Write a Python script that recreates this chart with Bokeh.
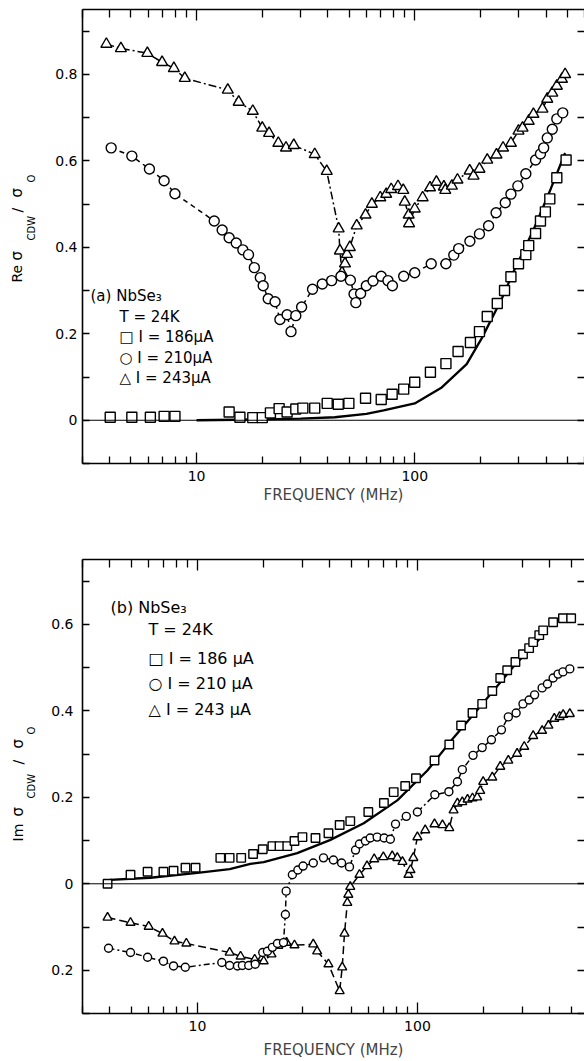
import math
from bokeh.plotting import figure
from bokeh.models import (Range1d, FixedTicker, LogAxis, LinearAxis, Span, Label,
                          CustomJSTickFormatter)
from bokeh.layouts import column, row
from bokeh.embed import file_html
from bokeh.resources import INLINE

FONT = "DejaVu Sans"

# ---------------- data: panel (a) Re sigma_CDW / sigma_0 ----------------
a_sq_f = [4.02, 5.05, 6.14, 7.1, 7.96, 14.1, 15.8, 18.1, 20.0, 21.8, 23.9, 26.0, 28.5, 30.7,
          34.8, 39.7, 44.6, 49.9, 59.5, 70.2, 78.8, 89, 100, 118, 139, 158, 180, 198, 215,
          239, 258, 276, 299, 323, 333, 358, 377, 397, 416, 448, 494]
a_sq_v = [0.007, 0.007, 0.007, 0.009, 0.009, 0.019, 0.007, 0.006, 0.006, 0.017, 0.027, 0.019,
          0.026, 0.028, 0.028, 0.039, 0.037, 0.039, 0.051, 0.048, 0.06, 0.072, 0.088, 0.111,
          0.131, 0.159, 0.18, 0.205, 0.24, 0.27, 0.30, 0.332, 0.362, 0.383, 0.404, 0.432,
          0.461, 0.482, 0.512, 0.561, 0.602]

a_ci_f = [4.06, 5.05, 6.08, 7.10, 7.96, 12.05, 13.1, 14.1, 15.2, 16.3, 17.3, 18.4, 19.6, 20.2,
          21.3, 22.9, 24.1, 26.0, 27.1, 28.5, 30.3, 34.0, 37.7, 41.6, 45.9, 50.7, 52.7, 53.7,
          56.5, 60, 64.4, 70.2, 75.4, 79, 89, 100, 119, 139, 151, 159, 179, 198, 218, 236,
          260, 276, 297, 323, 358, 377, 390, 405, 427, 448, 477]
a_ci_v = [0.63, 0.611, 0.581, 0.554, 0.524, 0.461, 0.44, 0.422, 0.41, 0.394, 0.383, 0.353,
          0.33, 0.311, 0.281, 0.274, 0.233, 0.244, 0.205, 0.242, 0.262, 0.303, 0.315, 0.323,
          0.333, 0.324, 0.292, 0.272, 0.293, 0.311, 0.322, 0.333, 0.323, 0.311, 0.333, 0.341,
          0.362, 0.362, 0.382, 0.397, 0.414, 0.431, 0.45, 0.48, 0.503, 0.523, 0.542, 0.57,
          0.602, 0.616, 0.63, 0.653, 0.673, 0.697, 0.711]

a_tr_f = [3.86, 4.50, 5.95, 6.95, 7.87, 8.83, 13.9, 15.6, 18.1, 20.0, 21.5, 23.7, 25.7, 27.9,
          34.8, 39.5, 44.8, 45.4, 46.4, 47.9, 48.9, 50.4, 54.2, 59.5, 63.6, 69.5, 74.0, 78.0,
          83.8, 88.6, 90.0, 93.8, 94.2, 100, 108.7, 117.5, 125.7, 136, 138, 148, 157, 178.6,
          186, 198, 215, 237, 254, 276, 299, 312, 333, 350, 385, 405, 427, 448, 473, 489]
a_tr_v = [0.870, 0.860, 0.849, 0.828, 0.814, 0.791, 0.764, 0.736, 0.715, 0.676, 0.664, 0.641,
          0.630, 0.636, 0.615, 0.576, 0.443, 0.392, 0.341, 0.362, 0.384, 0.40, 0.45, 0.475,
          0.50, 0.515, 0.523, 0.534, 0.541, 0.532, 0.505, 0.475, 0.455, 0.489, 0.515, 0.538,
          0.551, 0.54, 0.532, 0.542, 0.556, 0.577, 0.565, 0.581, 0.602, 0.614, 0.63, 0.641,
          0.669, 0.676, 0.692, 0.708, 0.72, 0.743, 0.757, 0.773, 0.789, 0.80]

a_th_f = [10, 20, 30, 43, 60, 72, 100, 133, 173, 203, 250, 285, 350, 420, 489]
a_th_v = [0.0, 0.002, 0.004, 0.007, 0.015, 0.023, 0.039, 0.076, 0.13, 0.19, 0.28, 0.346,
          0.44, 0.535, 0.618]

# ---------------- data: panel (b) Im sigma_CDW / sigma_0 ----------------
b_sq_f = [3.90, 4.96, 5.93, 7.0, 7.78, 8.82, 9.8, 12.7, 14.0, 15.8, 17.9, 19.8, 21.9, 23.6,
          25.6, 27.6, 30.0, 34.4, 39.4, 44.3, 49.5, 59.8, 70.4, 78.0, 88, 98.5, 119.6, 139.6,
          158, 178, 197, 219, 238, 256, 279, 302, 322, 336, 358, 373, 414, 459, 500]
b_sq_v = [0.0, 0.021, 0.028, 0.028, 0.03, 0.037, 0.037, 0.06, 0.06, 0.06, 0.069, 0.08, 0.087,
          0.087, 0.087, 0.099, 0.108, 0.106, 0.117, 0.136, 0.145, 0.166, 0.187, 0.212, 0.226,
          0.244, 0.285, 0.322, 0.366, 0.395, 0.416, 0.446, 0.476, 0.494, 0.513, 0.531, 0.545,
          0.559, 0.575, 0.586, 0.605, 0.614, 0.614]

b_ci_f = [3.94, 4.96, 5.93, 7.0, 7.78, 8.8, 12.9, 14.0, 15.2, 16.0, 17.1, 18.3, 19.8, 20.8,
          21.9, 23.1, 24.6, 25.1, 25.3, 27.0, 28.6, 30.2, 33.6, 37.4, 41.5, 45.2, 49.1, 52.3,
          54.5, 58, 61, 65.6, 70.6, 75.3, 79.5, 89, 100, 120, 139, 152, 160, 179, 197, 217,
          241, 259, 281, 302, 322, 341, 369, 390, 414, 436, 459, 493]
b_ci_v = [-0.149, -0.159, -0.17, -0.179, -0.19, -0.193, -0.182, -0.189, -0.19, -0.189, -0.189,
          -0.186, -0.159, -0.156, -0.147, -0.138, -0.136, -0.071, -0.017, 0.021, 0.032, 0.041,
          0.048, 0.06, 0.055, 0.048, 0.039, 0.078, 0.092, 0.099, 0.106, 0.108, 0.106, 0.103,
          0.138, 0.156, 0.166, 0.206, 0.213, 0.236, 0.264, 0.297, 0.315, 0.333, 0.356, 0.386,
          0.395, 0.416, 0.425, 0.437, 0.453, 0.462, 0.476, 0.485, 0.49, 0.497]

b_tr_f = [3.90, 4.96, 6.0, 6.93, 7.86, 8.9, 14.0, 15.7, 18.2, 20.0, 21.7, 23.3, 25.4, 27.6,
          33.6, 35.0, 39.4, 44.3, 45.5, 46.6, 48.0, 48.5, 49.5, 54.5, 59, 63.6, 70, 76.8, 81,
          85.5, 91, 93, 95.8, 100, 108.5, 119.6, 130, 139.6, 146, 152, 160, 169, 178, 187, 193,
          199, 219, 238, 259, 284, 306, 336, 369, 394, 419, 443, 460, 493]
b_tr_v = [-0.078, -0.09, -0.099, -0.115, -0.133, -0.138, -0.159, -0.168, -0.175, -0.179,
          -0.163, -0.143, -0.136, -0.142, -0.14, -0.156, -0.186, -0.248, -0.193, -0.115,
          -0.044, -0.025, -0.007, 0.021, 0.041, 0.057, 0.062, 0.064, 0.06, 0.051, 0.021, 0.032,
          0.06, 0.108, 0.124, 0.138, 0.136, 0.129, 0.17, 0.186, 0.189, 0.195, 0.198, 0.2, 0.215,
          0.236, 0.246, 0.271, 0.285, 0.301, 0.317, 0.342, 0.354, 0.366, 0.382, 0.386, 0.391,
          0.393]

b_th_f = [4.0, 6.1, 10, 14, 17.4, 20, 28.4, 40, 57, 81, 111, 146, 193, 274, 362, 375]
b_th_v = [0.009, 0.014, 0.025, 0.034, 0.046, 0.05, 0.071, 0.101, 0.14, 0.193, 0.262, 0.338,
          0.41, 0.503, 0.568, 0.58]

# ticks
x_major = [10, 100]
x_minor = [3, 4, 5, 6, 7, 8, 9, 20, 30, 40, 50, 60, 70, 80, 90, 200, 300, 400, 500, 600]
a_y_major = [0, 0.2, 0.4, 0.6, 0.8]
a_y_minor = [-0.1, 0.1, 0.3, 0.5, 0.7, 0.9]
b_y_major = [-0.2, 0, 0.2, 0.4, 0.6]
b_y_minor = [-0.3, -0.1, 0.1, 0.3, 0.5, 0.7]

LABW = 40  # width of the strip holding the rotated y titles


def xfmt():
    return CustomJSTickFormatter(code="return tick.toFixed(0);")


def yfmt():
    return CustomJSTickFormatter(
        code="return (Math.abs(tick) < 1e-9) ? '0' : Math.abs(tick).toFixed(1);")


def nofmt():
    return CustomJSTickFormatter(code="return '';")


def style_axis(ax, tick_in, minor_in, labels=True, line=True):
    ax.major_tick_out = 0
    ax.minor_tick_out = 0
    ax.major_tick_in = tick_in
    ax.minor_tick_in = minor_in
    ax.major_tick_line_color = "black"
    ax.minor_tick_line_color = "black"
    ax.major_tick_line_width = 1.3
    ax.minor_tick_line_width = 1.3
    ax.axis_line_width = 1.6
    ax.axis_line_color = "black" if line else None
    if labels:
        ax.major_label_text_font = FONT
        ax.major_label_text_font_size = "14px"
        ax.major_label_text_color = "black"
    else:
        ax.major_label_standoff = 0


def make_panel(height, xr, yr, ymaj, ymin, border_top, border_left, lab_so, title_so):
    p = figure(width=584 - LABW, height=height, x_axis_type="log",
               x_range=Range1d(*xr), y_range=Range1d(*yr),
               output_backend="svg", toolbar_location=None,
               min_border_left=border_left, min_border_right=0,
               min_border_top=border_top, min_border_bottom=0)
    p.outline_line_color = None
    p.grid.visible = False
    p.background_fill_color = "white"
    p.border_fill_color = "white"
    xa = p.xaxis[0]
    ya = p.yaxis[0]
    xa.ticker = FixedTicker(ticks=x_major, minor_ticks=x_minor)
    xa.formatter = xfmt()
    ya.ticker = FixedTicker(ticks=ymaj, minor_ticks=ymin)
    ya.formatter = yfmt()
    style_axis(xa, 11, 7)
    style_axis(ya, 7, 7)
    xa.major_label_standoff = lab_so
    xa.axis_label = "FREQUENCY (MHz)"
    xa.axis_label_text_font = FONT
    xa.axis_label_text_font_size = "15px"
    xa.axis_label_text_font_style = "normal"
    xa.axis_label_standoff = title_so
    top = LogAxis(ticker=FixedTicker(ticks=x_major, minor_ticks=x_minor), formatter=nofmt())
    style_axis(top, 11, 8, labels=False)
    p.add_layout(top, "above")
    right = LinearAxis(ticker=FixedTicker(ticks=ymaj, minor_ticks=ymin), formatter=nofmt())
    style_axis(right, 7, 7, labels=False, line=False)
    p.add_layout(right, "right")
    p.add_layout(Span(location=0, dimension="width", line_color="black", line_width=1.0))
    return p


def series(p, f, v, marker, size, dash):
    if dash is not None:
        p.line(f, v, line_color="black", line_width=1.5, line_dash=dash)
    p.scatter(f, v, marker=marker, size=size, fill_color="white",
              line_color="black", line_width=1.4)


def txt(p, x, y, text, size):
    p.add_layout(Label(x=x, y=y, x_units="screen", y_units="screen", text=text,
                       text_font=FONT, text_font_size=size, text_baseline="middle",
                       text_align="left", text_color="black"))


# ---------------- strip with the rotated y titles ----------------
H_TOTAL = 1061
lab = figure(width=LABW, height=H_TOTAL, x_range=Range1d(0, LABW), y_range=Range1d(0, H_TOTAL),
             output_backend="svg", toolbar_location=None, min_border=0,
             x_axis_location=None, y_axis_location=None)
lab.outline_line_color = None
lab.grid.visible = False


def vtitle(parts):
    # parts: (text, x centre in px, page y of text start in px, font size)
    for text, x, ypage, size in parts:
        lab.add_layout(Label(x=x, y=H_TOTAL - ypage, text=text, angle=math.pi / 2,
                             text_font=FONT, text_font_size=size, text_baseline="middle",
                             text_align="left", text_color="black"))


vtitle([("Re", 16, 282, "14px"), ("σ", 16, 260, "15px"), ("CDW", 31, 240, "10px"),
        ("/", 16, 212, "14px"), ("σ", 16, 197, "15px"), ("O", 31, 182, "10px")])
vtitle([("Im", 17, 841, "14px"), ("σ", 17, 816, "15px"), ("CDW", 31, 798, "10px"),
        ("/", 17, 764, "14px"), ("σ", 17, 748, "15px"), ("O", 31, 734, "10px")])

# ---------------- panel (a) ----------------
HA = 506
pa = make_panel(HA, (3, 600), (-0.1, 0.95), a_y_major, a_y_minor, 9, 75 - LABW, 7, 2)
pa.line(a_th_f, a_th_v, line_color="black", line_width=2.3)
series(pa, a_tr_f, a_tr_v, "triangle", 11, "8 3 2 3")
series(pa, a_ci_f, a_ci_v, "circle", 10, "5 4")
series(pa, a_sq_f, a_sq_v, "square", 10, None)

txt(pa, 8, 168, "(a) NbSe₃", "15px")
txt(pa, 37, 147, "T = 24K", "15px")
txt(pa, 37, 127, "□  I = 186μA", "15px")
txt(pa, 37, 106, "○  I = 210μA", "15px")
txt(pa, 37, 86, "△  I = 243μA", "15px")

# ---------------- panel (b) ----------------
pb = make_panel(H_TOTAL - HA, (3, 575), (-0.3, 0.75), b_y_major, b_y_minor, 559 - HA,
                82 - LABW, 7, 7)
pb.yaxis[0].major_label_standoff = 9
pb.line(b_th_f, b_th_v, line_color="black", line_width=2.3)
series(pb, b_tr_f, b_tr_v, "triangle", 9, "8 4")
series(pb, b_ci_f, b_ci_v, "circle", 8, "6 3 2 3")
series(pb, b_sq_f, b_sq_v, "square", 8.5, None)

txt(pb, 28, 406, "(b)  NbSe₃", "16px")
txt(pb, 66, 384, "T = 24K", "16px")
txt(pb, 66, 355, "□ I  =  186 μA", "16px")
txt(pb, 66, 330, "○ I  =  210 μA", "16px")
txt(pb, 66, 304, "△ I  =  243 μA", "16px")

layout = row(lab, column(pa, pb, spacing=0), spacing=0)
open("out.html", "w").write(file_html(layout, INLINE))
